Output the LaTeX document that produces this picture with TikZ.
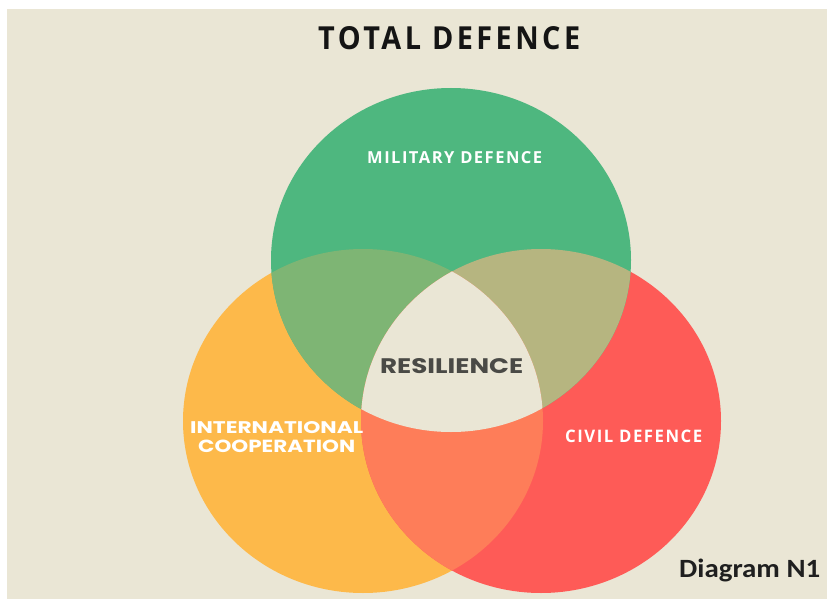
\documentclass[tikz,border=0pt]{standalone}
\usepackage{fontspec}
\usepackage{graphicx}
\setmainfont{Open Sans}
\newfontfamily\popf{Poppins}
\newfontfamily\carl{Carlito}
\newfontfamily\spaced[LetterSpace=12]{Open Sans}
\newfontfamily\wspaced[LetterSpace=9]{Open Sans}
\definecolor{bgc}{RGB}{234,230,213}
\definecolor{cgreen}{RGB}{78,183,127}
\definecolor{cyel}{RGB}{253,185,74}
\definecolor{cred}{RGB}{254,91,87}
\definecolor{cyg}{RGB}{126,181,116}
\definecolor{cgr}{RGB}{182,181,128}
\definecolor{cyr}{RGB}{254,125,89}
\definecolor{ccen}{RGB}{234,230,213}
\definecolor{ctext}{RGB}{74,74,70}
\begin{document}
\begin{tikzpicture}[x=1pt,y=-1pt,
  lab/.style={inner sep=0pt, anchor=base west},
  wlab/.style={lab, text=white}]
\useasboundingbox (0,0) rectangle (827,599);
\fill[white] (0,0) rectangle (827,599);
\fill[bgc] (7,9) rectangle (827,599);
\coordinate (G) at (451,260);
\coordinate (Y) at (363,421);
\coordinate (R) at (541,421);
% base circles
\fill[cyel] (Y) ellipse [x radius=180pt, y radius=172pt];
\fill[cred] (R) ellipse [x radius=180pt, y radius=172pt];
\fill[cgreen] (G) ellipse [x radius=180pt, y radius=172pt];
% yellow & green
\begin{scope}
  \clip (Y) ellipse [x radius=180pt, y radius=172pt];
  \fill[cyg] (G) ellipse [x radius=180pt, y radius=172pt];
\end{scope}
% green & red
\begin{scope}
  \clip (R) ellipse [x radius=180pt, y radius=172pt];
  \fill[cgr] (G) ellipse [x radius=180pt, y radius=172pt];
\end{scope}
% yellow & red
\begin{scope}
  \clip (Y) ellipse [x radius=180pt, y radius=172pt];
  \fill[cyr] (R) ellipse [x radius=180pt, y radius=172pt];
\end{scope}
% centre
\begin{scope}
  \clip (Y) ellipse [x radius=180pt, y radius=172pt];
  \clip (R) ellipse [x radius=180pt, y radius=172pt];
  \fill[ccen] (G) ellipse [x radius=180pt, y radius=172pt];
\end{scope}
% texts
\node[lab, text=black!92] (title) at (318,50) {\resizebox{262pt}{23pt}{\spaced\bfseries TOTAL DEFENCE}};
\node[wlab] (mil) at (367,164) {\resizebox{175pt}{12pt}{\wspaced\bfseries MILITARY DEFENCE}};
\node[lab, text=ctext] (res) at (380,373) {\resizebox{143pt}{15pt}{\popf\bfseries RESILIENCE}};
\node[wlab] (int1) at (190,433) {\resizebox{173pt}{12pt}{\popf\bfseries INTERNATIONAL}};
\node[wlab] (int2) at (198,452.5) {\resizebox{157pt}{12.5pt}{\popf\bfseries COOPERATION}};
\node[wlab] (civ) at (565,442) {\resizebox{137pt}{12.5pt}{\wspaced\bfseries CIVIL DEFENCE}};
\node[lab, text=black!88] (dia) at (679,577.5) {\resizebox{141pt}{18.5pt}{\carl\bfseries Diagram N1}};
\end{tikzpicture}
\end{document}
